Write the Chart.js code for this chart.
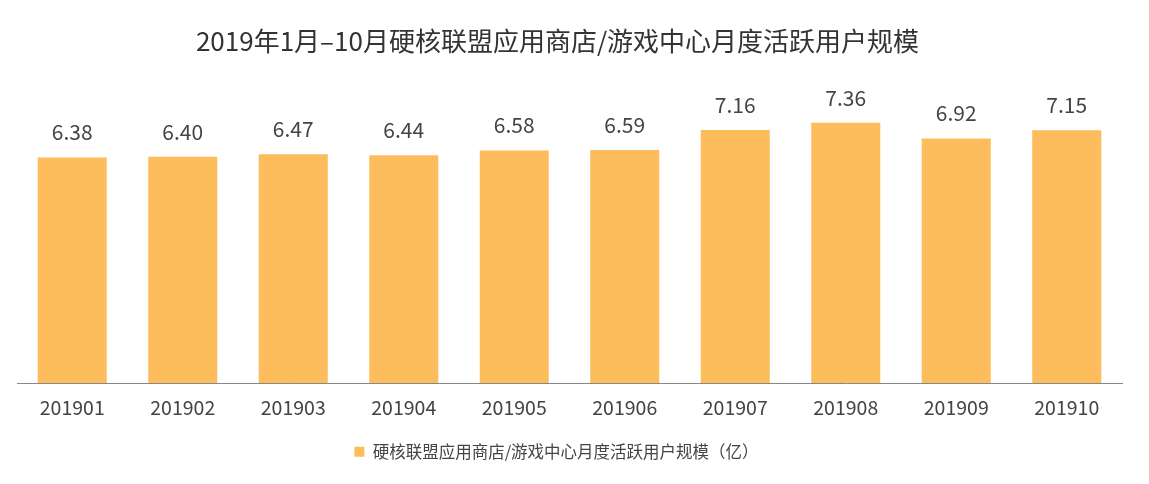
<!DOCTYPE html>
<html><head><meta charset="utf-8">
<script src="https://cdn.jsdelivr.net/npm/chart.js@4/dist/chart.umd.min.js"></script>
<style>html,body{margin:0;padding:0;background:#fff}#wrap{width:1149px;height:484px}</style>
</head><body><div id="wrap"><canvas id="c" width="1149" height="484"></canvas></div>
<script>
const categories = ["201901","201902","201903","201904","201905","201906","201907","201908","201909","201910"];
const values = [6.38, 6.40, 6.47, 6.44, 6.58, 6.59, 7.16, 7.36, 6.92, 7.15];
const seriesName = "硬核联盟应用商店/游戏中心月度活跃用户规模（亿）";
const titleText = "2019年1月–10月硬核联盟应用商店/游戏中心月度活跃用户规模";
const FONT = '"Noto Sans CJK SC", "Noto Sans", sans-serif';

const shiftPlugin = {
  id: 'shift',
  afterLayout(chart) {
    if (chart.titleBlock) { chart.titleBlock.left -= 12; chart.titleBlock.right -= 12; }
    if (chart.legend) { chart.legend.left -= 13; chart.legend.right -= 13; }
  }
};
const valueLabels = {
  id: 'valueLabels',
  afterDatasetsDraw(chart) {
    const ctx = chart.ctx;
    const meta = chart.getDatasetMeta(0);
    ctx.save();
    ctx.font = '21px ' + FONT;
    ctx.fillStyle = '#444';
    ctx.textAlign = 'center';
    ctx.textBaseline = 'middle';
    meta.data.forEach((bar, i) => {
      ctx.fillText(values[i].toFixed(2), bar.x, bar.y - 25);
    });
    ctx.restore();
  }
};

new Chart(document.getElementById('c'), {
  type: 'bar',
  data: {
    labels: categories,
    datasets: [{
      label: seriesName,
      data: values,
      backgroundColor: '#FEBD5D',
      categoryPercentage: 1,
      barPercentage: 0.625
    }]
  },
  options: {
    responsive: false,
    animation: false,
    devicePixelRatio: 1,
    layout: { padding: { left: 17, right: 27, top: 26, bottom: 14 } },
    plugins: {
      title: {
        display: true, text: titleText, color: '#333',
        font: { family: FONT, size: 26, weight: 'normal' },
        padding: { top: 0, bottom: 43 }
      },
      legend: {
        position: 'bottom',
        labels: {
          color: '#444', font: { family: FONT, size: 16.5 },
          boxWidth: 10, boxHeight: 10, padding: 11
        }
      },
      tooltip: { enabled: false }
    },
    scales: {
      x: {
        grid: { display: false, drawTicks: false },
        border: { display: true, color: '#888', width: 1 },
        ticks: { color: '#444', font: { family: FONT, size: 19.5 }, padding: 13 }
      },
      y: { display: false, min: 0, max: 8 }
    }
  },
  plugins: [shiftPlugin, valueLabels]
});
</script></body></html>
